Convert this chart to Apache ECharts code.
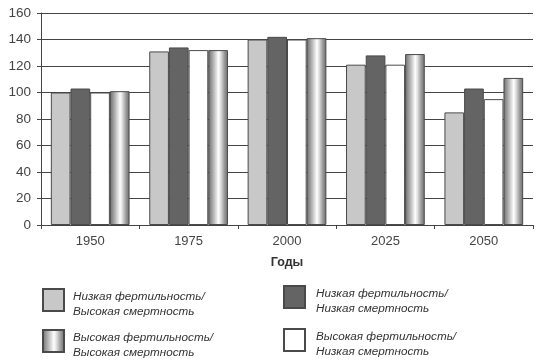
<!DOCTYPE html>
<html>
<head>
<meta charset="utf-8">
<script src="https://cdn.jsdelivr.net/npm/echarts@6/dist/echarts.min.js"></script>
<style>
html,body{margin:0;padding:0;background:#fff;}
#chart{width:550px;height:364px;}
</style>
</head>
<body>
<div id="chart"></div>
<script>
// Data
var years = ['1950', '1975', '2000', '2025', '2050'];
var yTicks = [0, 20, 40, 60, 80, 100, 120, 140, 160];
var seriesNames = [
  'Низкая фертильность/\nВысокая смертность',
  'Низкая фертильность/\nНизкая смертность',
  'Высокая фертильность/\nНизкая смертность',
  'Высокая фертильность/\nВысокая смертность'
];
var lowFertHighMort = [100, 131, 140, 121, 85];
var lowFertLowMort = [103, 134, 142, 128, 103];
var highFertLowMort = [100, 132, 140, 121, 95];
var highFertHighMort = [101, 132, 141, 129, 111];

var chart = echarts.init(document.getElementById('chart'), null, {renderer: 'canvas'});

var striped = new echarts.graphic.LinearGradient(0, 0, 1, 0, [
  {offset: 0, color: '#6e6e6e'},
  {offset: 0.18, color: '#9c9c9c'},
  {offset: 0.38, color: '#d6d6d6'},
  {offset: 0.52, color: '#ffffff'},
  {offset: 0.64, color: '#dcdcdc'},
  {offset: 0.82, color: '#9a9a9a'},
  {offset: 1, color: '#6c6c6c'}
]);

var font = '"Liberation Sans", Arial, sans-serif';

function bar(name, data, color) {
  return {
    name: name,
    type: 'bar',
    data: data,
    barGap: '0%',
    barCategoryGap: '20%',
    itemStyle: {color: color, borderColor: '#4a4a4a', borderWidth: 1},
    emphasis: {disabled: true},
    animation: false
  };
}

function legendText(leftPad) {
  return {
    fontFamily: font,
    fontStyle: 'italic',
    fontSize: 11.7,
    color: '#333',
    lineHeight: 15,
    padding: [0, 0, 0, leftPad]
  };
}

// square icon sitting in the upper part of a taller icon box
var legendIcon = 'path://M0,0L21,0L21,22L0,22Z M0,31';

chart.setOption({
  animation: false,
  grid: {left: 41, right: 17, top: 13, bottom: 139, containLabel: false},
  xAxis: {
    type: 'category',
    data: years,
    name: 'Годы',
    nameLocation: 'middle',
    nameGap: 31,
    nameTextStyle: {fontFamily: font, fontWeight: 'bold', fontSize: 12.5, color: '#333'},
    axisLine: {lineStyle: {color: '#444', width: 1}},
    axisTick: {show: true, inside: false, length: 4, lineStyle: {color: '#444'}},
    axisLabel: {fontFamily: font, fontSize: 13, color: '#444', margin: 10}
  },
  yAxis: {
    type: 'value',
    min: yTicks[0],
    max: yTicks[yTicks.length - 1],
    interval: yTicks[1] - yTicks[0],
    axisLine: {show: true, lineStyle: {color: '#444', width: 1}},
    axisTick: {show: true, length: 4, lineStyle: {color: '#444'}},
    axisLabel: {fontFamily: font, fontSize: 13.5, color: '#444', margin: 10},
    splitLine: {show: true, lineStyle: {color: '#444', width: 1}}
  },
  legend: [
    {
      data: [seriesNames[0], seriesNames[3]],
      orient: 'vertical',
      left: 42,
      top: 288,
      padding: 0,
      icon: legendIcon,
      itemWidth: 21,
      itemHeight: 31,
      itemGap: 8,
      selectedMode: false,
      textStyle: legendText(4)
    },
    {
      data: [seriesNames[1], seriesNames[2]],
      orient: 'vertical',
      left: 283,
      top: 285,
      padding: 0,
      icon: legendIcon,
      itemWidth: 21,
      itemHeight: 31,
      itemGap: 10,
      selectedMode: false,
      textStyle: legendText(6)
    }
  ],
  series: [
    bar(seriesNames[0], lowFertHighMort, '#c8c8c8'),
    bar(seriesNames[1], lowFertLowMort, '#646464'),
    bar(seriesNames[2], highFertLowMort, '#ffffff'),
    bar(seriesNames[3], highFertHighMort, striped)
  ]
});
</script>
</body>
</html>
